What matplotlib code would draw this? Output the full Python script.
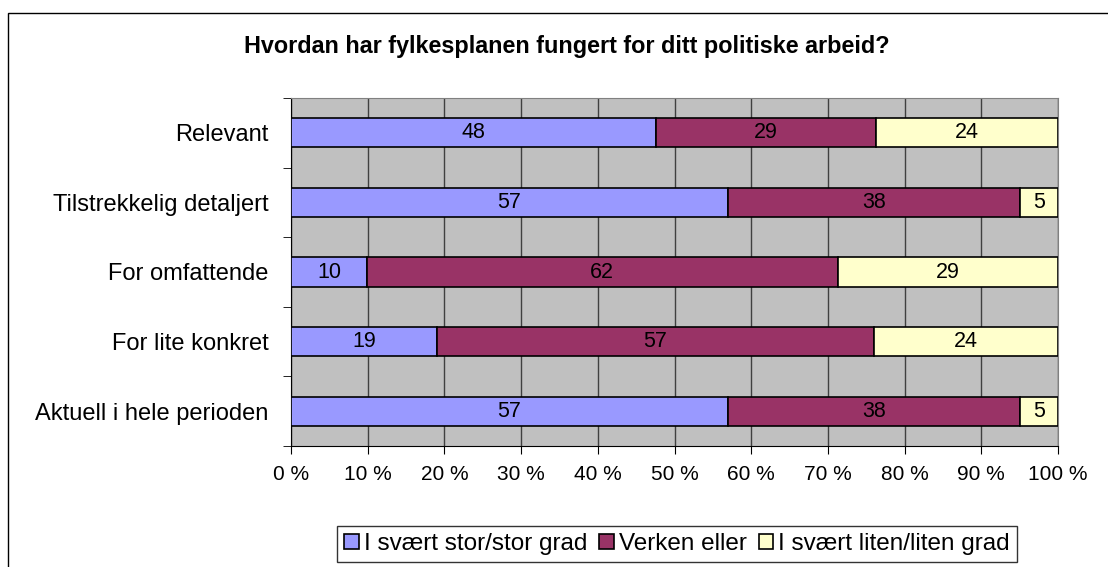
import matplotlib.pyplot as plt
from matplotlib.patches import Rectangle
import numpy as np

plt.rcParams['font.family'] = ['Liberation Sans', 'DejaVu Sans']

categories = ["Relevant", "Tilstrekkelig detaljert", "For omfattende",
              "For lite konkret", "Aktuell i hele perioden"]
stor = [48, 57, 10, 19, 57]
verken = [29, 38, 62, 57, 38]
liten = [24, 5, 29, 24, 5]
series_names = ["I svært stor/stor grad", "Verken eller", "I svært liten/liten grad"]
colors = ["#9999FF", "#993366", "#FFFFCC"]

data = np.array([stor, verken, liten], dtype=float)
pct = data / data.sum(axis=0) * 100

fig = plt.figure(figsize=(11.08, 5.67), dpi=100)
fig.patches.append(Rectangle((8 / 1108, -0.1), 1.2, 1 - 13 / 567 + 0.1,
                             transform=fig.transFigure, fill=False,
                             edgecolor="black", linewidth=1))
ax = fig.add_axes([291 / 1108, 1 - 446 / 567, (1058 - 291) / 1108, (446 - 98) / 567])
ax.set_facecolor("#C0C0C0")

y = np.arange(len(categories))
left = np.zeros(len(categories))
for i in range(3):
    bars = ax.barh(y, pct[i], left=left, height=0.42, color=colors[i],
                   edgecolor="black", linewidth=1.2, label=series_names[i], zorder=3)
    ax.bar_label(bars, labels=[f"{int(v)}" for v in data[i]], label_type="center",
                 fontsize=15.5, color="black")
    left += pct[i]

ax.set_xlim(0, 100)
ax.set_ylim(len(categories) - 0.5, -0.5)
ax.set_xticks(np.arange(0, 101, 10))
ax.set_xticklabels([f"{v} %" for v in range(0, 101, 10)], fontsize=15)
ax.set_yticks(y)
ax.set_yticklabels(categories, fontsize=17)
ax.set_yticks(np.arange(-0.5, len(categories), 1), minor=True)
ax.tick_params(axis="y", which="major", length=0, pad=16)
ax.tick_params(axis="y", which="minor", length=6, direction="out")
ax.tick_params(axis="x", length=6, direction="out", pad=8)
ax.xaxis.grid(True, color="#404040", linewidth=1, zorder=1)
ax.set_axisbelow(True)
for s in ["top", "right"]:
    ax.spines[s].set_color("#808080")
for s in ["left", "bottom"]:
    ax.spines[s].set_color("black")

fig.text(567 / 1108, 1 - 47 / 567, "Hvordan har fylkesplanen fungert for ditt politiske arbeid?",
         ha="center", va="center", fontsize=16.8, fontweight="bold")

leg = fig.legend(loc="center", bbox_to_anchor=(677 / 1108, 1 - 544 / 567), ncol=3,
                 fontsize=17.5, frameon=True, fancybox=False, edgecolor="black",
                 handlelength=0.6, handleheight=0.6, handletextpad=0.2,
                 columnspacing=0.5, borderpad=0.3)
leg.get_frame().set_linewidth(1)

fig.savefig("out.png", dpi=100)
